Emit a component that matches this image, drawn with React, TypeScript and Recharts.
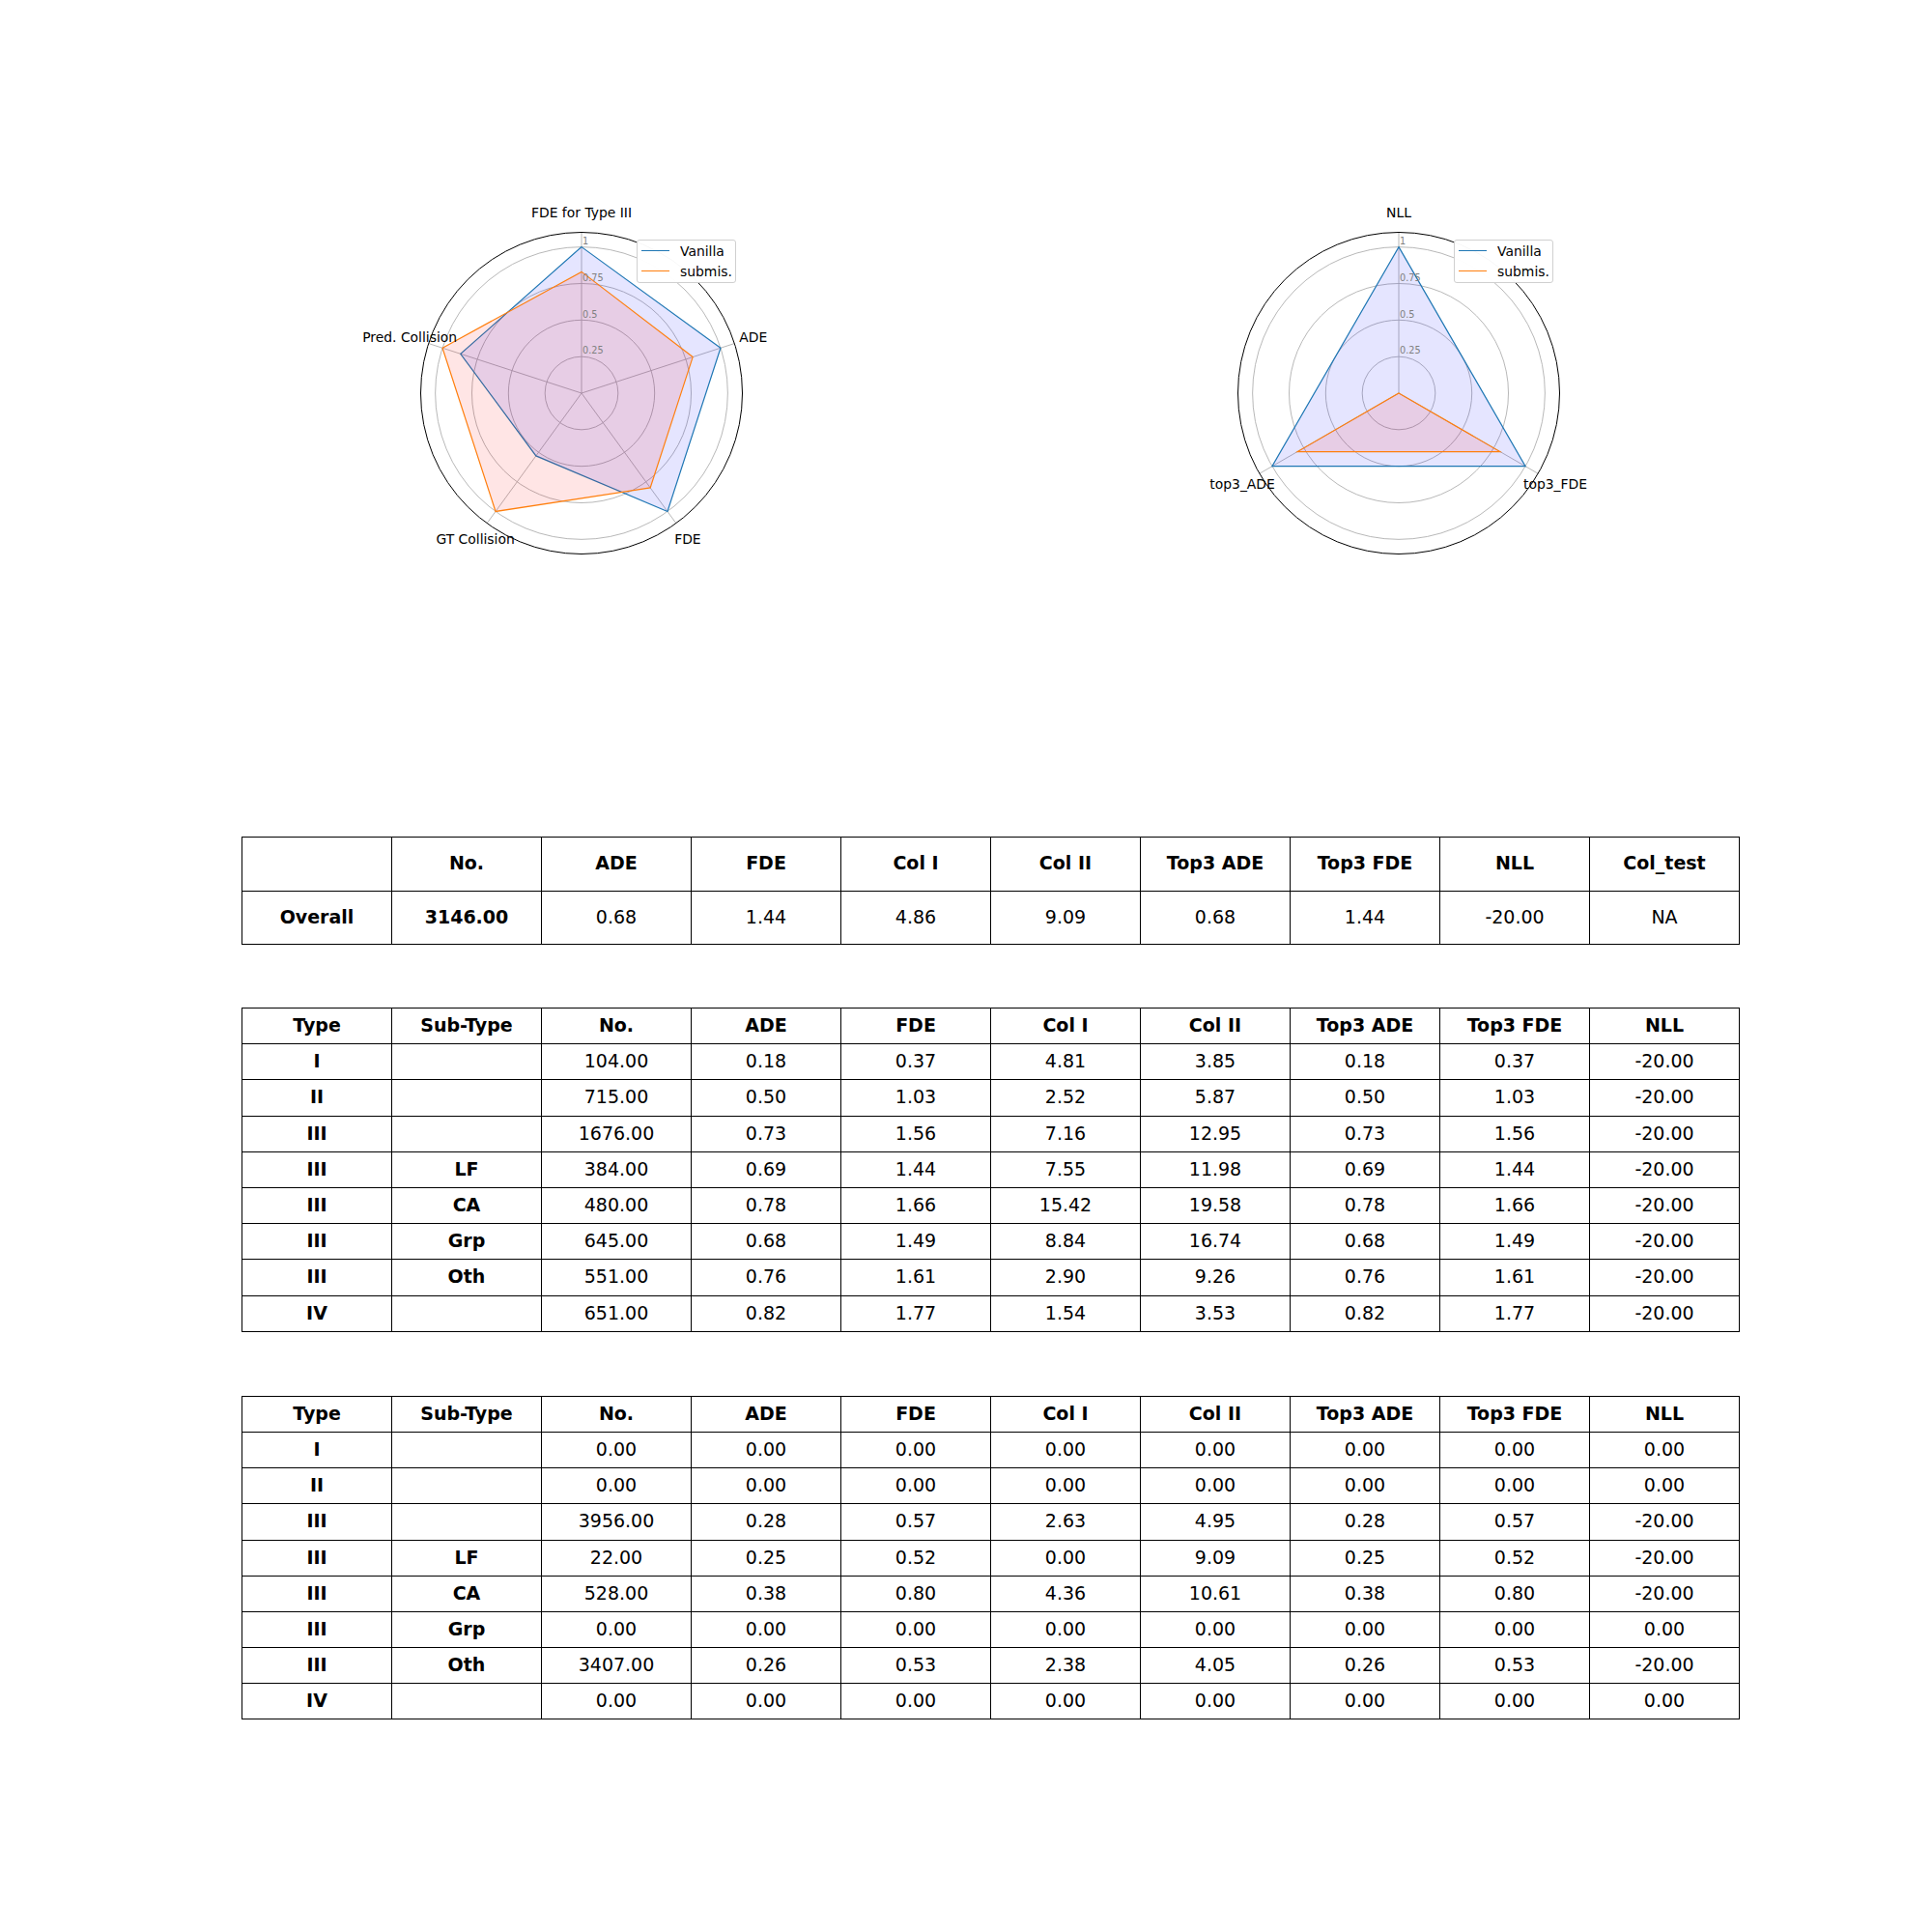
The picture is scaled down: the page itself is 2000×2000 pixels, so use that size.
import React from "react"
import { RadarChart, Radar, PolarGrid, PolarAngleAxis, PolarRadiusAxis } from "recharts"

const FONT = '"DejaVu Sans", sans-serif'

// left radar: deterministic metrics
const detAxes = ["FDE for Type III", "ADE", "FDE", "GT Collision", "Pred. Collision"]
const detVanilla = [1.0, 1.0, 1.0, 0.53, 0.87]
const detSubmis = [0.83, 0.8, 0.8, 1.0, 1.0]

// right radar: probabilistic metrics
const probAxes = ["NLL", "top3_FDE", "top3_ADE"]
const probVanilla = [1.0, 1.0, 1.0]
const probSubmis = [0.0, 0.8, 0.8]

const radiusTicks = [0.25, 0.5, 0.75, 1]
const seriesNames = ["Vanilla", "submis."]
const seriesColors = ["#1f77b4", "#ff7f0e"]
const fillColors = ["#0000ff", "#ff0000"]

// overall table
const overallHeader = ["", "No.", "ADE", "FDE", "Col I", "Col II", "Top3 ADE", "Top3 FDE", "NLL", "Col_test"]
const overallLabel = "Overall"
const overallValues = [3146, 0.68, 1.44, 4.86, 9.09, 0.68, 1.44, -20]
const overallColTest = "NA"

// per-type tables
const typeHeader = ["Type", "Sub-Type", "No.", "ADE", "FDE", "Col I", "Col II", "Top3 ADE", "Top3 FDE", "NLL"]
const typeLabels = ["I", "II", "III", "III", "III", "III", "III", "IV"]
const subTypeLabels = ["", "", "", "LF", "CA", "Grp", "Oth", ""]
const valRows = [
  [104, 0.18, 0.37, 4.81, 3.85, 0.18, 0.37, -20],
  [715, 0.5, 1.03, 2.52, 5.87, 0.5, 1.03, -20],
  [1676, 0.73, 1.56, 7.16, 12.95, 0.73, 1.56, -20],
  [384, 0.69, 1.44, 7.55, 11.98, 0.69, 1.44, -20],
  [480, 0.78, 1.66, 15.42, 19.58, 0.78, 1.66, -20],
  [645, 0.68, 1.49, 8.84, 16.74, 0.68, 1.49, -20],
  [551, 0.76, 1.61, 2.9, 9.26, 0.76, 1.61, -20],
  [651, 0.82, 1.77, 1.54, 3.53, 0.82, 1.77, -20],
]
const testRows = [
  [0, 0, 0, 0, 0, 0, 0, 0],
  [0, 0, 0, 0, 0, 0, 0, 0],
  [3956, 0.28, 0.57, 2.63, 4.95, 0.28, 0.57, -20],
  [22, 0.25, 0.52, 0, 9.09, 0.25, 0.52, -20],
  [528, 0.38, 0.8, 4.36, 10.61, 0.38, 0.8, -20],
  [0, 0, 0, 0, 0, 0, 0, 0],
  [3407, 0.26, 0.53, 2.38, 4.05, 0.26, 0.53, -20],
  [0, 0, 0, 0, 0, 0, 0, 0],
]

const SIZE = 540
const C = SIZE / 2
const OUTER = 166.5
const LABEL_R = 187

function AngleTick({ payload }: any) {
  const a = (payload.coordinate * Math.PI) / 180
  return (
    <text
      x={C + LABEL_R * Math.cos(a)}
      y={C - LABEL_R * Math.sin(a)}
      textAnchor="middle"
      dominantBaseline="central"
      fontSize={13.9}
      fontFamily={FONT}
      fill="#000"
    >
      {payload.value}
    </text>
  )
}

function RadiusTick({ x, y, payload }: any) {
  return (
    <text x={x + 1} y={y - 2.7} fontSize={9.7} fontFamily={FONT} fill="#808080" textAnchor="start">
      {payload.value}
    </text>
  )
}

function Legend2({ left, top }: { left: number; top: number }) {
  return (
    <div
      style={{
        position: "absolute",
        left,
        top,
        width: 103,
        height: 45,
        boxSizing: "border-box",
        border: "1px solid #d0d0d0",
        borderRadius: 3,
        background: "rgba(255,255,255,0.97)",
        fontFamily: FONT,
        fontSize: 13.9,
      }}
    >
      {seriesNames.map((n, i) => (
        <div key={n} style={{ position: "absolute", left: 4, top: 1 + i * 21, height: 19, display: "flex", alignItems: "center" }}>
          <div style={{ width: 29, height: 1.5, background: seriesColors[i] }} />
          <span style={{ marginLeft: 11 }}>{n}</span>
        </div>
      ))}
    </div>
  )
}

function Spider({ axes, vanilla, submis, cx, cy }: any) {
  const data = axes.map((a: string, i: number) => ({ axis: a, vanilla: vanilla[i], submis: submis[i] }))
  const keys = ["vanilla", "submis"]
  return (
    <div style={{ position: "absolute", left: cx - C, top: cy - C }}>
      <RadarChart width={SIZE} height={SIZE} data={data} outerRadius={OUTER} margin={{ top: 0, right: 0, bottom: 0, left: 0 }}>
        <PolarGrid gridType="circle" stroke="#b0b0b0" strokeWidth={0.9} />
        <PolarAngleAxis dataKey="axis" axisLineType="circle" stroke="#000" strokeWidth={1} tickLine={false} tick={<AngleTick />} />
        <PolarRadiusAxis
          type="number"
          angle={90}
          domain={[0, 1.1]}
          ticks={radiusTicks}
          axisLine={false}
          tickLine={false}
          tick={<RadiusTick />}
        />
        {keys.map((k, i) => (
          <Radar
            key={k}
            name={seriesNames[i]}
            dataKey={k}
            stroke={seriesColors[i]}
            strokeWidth={1.2}
            fill={fillColors[i]}
            fillOpacity={0.1}
            dot={false}
            isAnimationActive={false}
          />
        ))}
      </RadarChart>
    </div>
  )
}

const fmt = (v: number) => v.toFixed(2)

function Cell({ x, y, w, h, text, bold }: any) {
  return (
    <div
      style={{
        position: "absolute",
        left: x,
        top: y,
        width: w + 1,
        height: h + 1,
        boxSizing: "border-box",
        border: "1px solid #000",
        paddingBottom: 3,
        display: "flex",
        alignItems: "center",
        justifyContent: "center",
        fontWeight: bold ? "bold" : "normal",
      }}
    >
      {text}
    </div>
  )
}

function Table({ top, rowH, rows, boldCols }: { top: number; rowH: number; rows: string[][]; boldCols: number }) {
  const colW = 155
  return (
    <div style={{ position: "absolute", left: 0, top: 0, fontFamily: FONT, fontSize: 19 }}>
      {rows.map((r, ri) =>
        r.map((t, ci) => (
          <Cell
            key={ri + "-" + ci}
            x={250 + ci * colW}
            y={Math.round(top + ri * rowH)}
            w={colW}
            h={Math.round(top + (ri + 1) * rowH) - Math.round(top + ri * rowH)}
            text={t}
            bold={ri === 0 || ci < boldCols}
          />
        ))
      )}
    </div>
  )
}

export default function App() {
  const overallRows = [overallHeader, [overallLabel, ...overallValues.map(fmt), overallColTest]]
  const valTable = [typeHeader, ...valRows.map((r, i) => [typeLabels[i], subTypeLabels[i], ...r.map(fmt)])]
  const testTable = [typeHeader, ...testRows.map((r, i) => [typeLabels[i], subTypeLabels[i], ...r.map(fmt)])]
  return (
    <div style={{ position: "absolute", left: 0, top: 0, width: 2000, height: 2000, background: "#fff", overflow: "hidden" }}>
      <Spider axes={detAxes} vanilla={detVanilla} submis={detSubmis} cx={602} cy={407} />
      <Legend2 left={659} top={248} />
      <Spider axes={probAxes} vanilla={probVanilla} submis={probSubmis} cx={1448} cy={407} />
      <Legend2 left={1505} top={248} />
      <Table top={866} rowH={55.5} rows={overallRows} boldCols={2} />
      <Table top={1043} rowH={37.2} rows={valTable} boldCols={2} />
      <Table top={1445} rowH={37.15} rows={testTable} boldCols={2} />
    </div>
  )
}
